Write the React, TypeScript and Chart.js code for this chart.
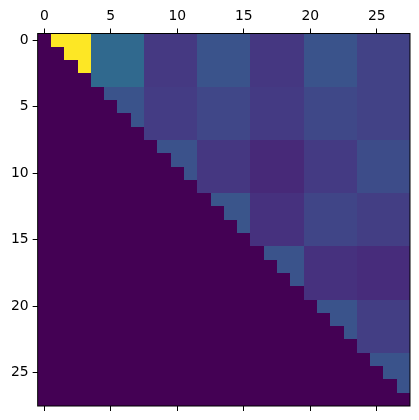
import React, { useEffect, useRef } from "react";
import { Chart, registerables } from "chart.js";
Chart.register(...registerables);

// Matrix is 28x28, made of 7x7 blocks of 4; strictly upper-triangular.
const BLOCK_SIZE = 4;
const N = 28;
const BLOCK_VALUES: number[][] = [
  [1.0, 0.34, 0.165, 0.255, 0.16, 0.255, 0.195],
  [0, 0.255, 0.175, 0.21, 0.17, 0.215, 0.195],
  [0, 0, 0.25, 0.16, 0.115, 0.17, 0.23],
  [0, 0, 0, 0.26, 0.14, 0.205, 0.18],
  [0, 0, 0, 0, 0.255, 0.14, 0.125],
  [0, 0, 0, 0, 0, 0.255, 0.18],
  [0, 0, 0, 0, 0, 0, 0.255],
];
const X_TICKS = [0, 5, 10, 15, 20, 25];
const Y_TICKS = [0, 5, 10, 15, 20, 25];

const VIRIDIS = [
  "#440154", "#471365", "#482475", "#463480", "#414487", "#3b528b", "#355f8d",
  "#2f6c8e", "#2a788e", "#25848e", "#21918c", "#1e9c89", "#22a884", "#2fb47c",
  "#44bf70", "#5ec962", "#7ad151", "#9bd93c", "#bddf26", "#dfe318", "#fde725",
];
const hex = (h: string) => [1, 3, 5].map((i) => parseInt(h.slice(i, i + 2), 16));
function viridis(t: number): string {
  const v = Math.max(0, Math.min(1, t)) * (VIRIDIS.length - 1);
  const i = Math.min(Math.floor(v), VIRIDIS.length - 2);
  const f = v - i;
  const a = hex(VIRIDIS[i]);
  const b = hex(VIRIDIS[i + 1]);
  const c = a.map((x, k) => Math.round(x + (b[k] - x) * f));
  return `rgb(${c[0]},${c[1]},${c[2]})`;
}

function cellValue(i: number, j: number): number {
  if (j <= i) return 0;
  return BLOCK_VALUES[Math.floor(i / BLOCK_SIZE)][Math.floor(j / BLOCK_SIZE)];
}

const CELLS: { x: number; y: number; v: number }[] = [];
for (let i = 0; i < N; i++) for (let j = 0; j < N; j++) CELLS.push({ x: j, y: i, v: cellValue(i, j) });
const VMIN = 0;
const VMAX = 1;

const heatPlugin = {
  id: "heat",
  beforeDatasetsDraw(chart: any) {
    const { ctx, scales } = chart;
    const xs = scales.x, ys = scales.y;
    const data = chart.data.datasets[0].data as any[];
    ctx.save();
    for (const c of data) {
      const x0 = Math.round(xs.getPixelForValue(c.x - 0.5));
      const x1 = Math.round(xs.getPixelForValue(c.x + 0.5));
      const y0 = Math.round(ys.getPixelForValue(c.y - 0.5));
      const y1 = Math.round(ys.getPixelForValue(c.y + 0.5));
      ctx.fillStyle = viridis((c.v - VMIN) / (VMAX - VMIN));
      ctx.fillRect(Math.min(x0, x1), Math.min(y0, y1), Math.abs(x1 - x0), Math.abs(y1 - y0));
    }
    ctx.restore();
  },
  afterDatasetsDraw(chart: any) {
    const { ctx, chartArea: a } = chart;
    ctx.save();
    ctx.strokeStyle = "#000";
    ctx.lineWidth = 1;
    ctx.strokeRect(a.left, a.top, a.right - a.left, a.bottom - a.top);
    ctx.restore();
  },
};

export default function App() {
  const ref = useRef<HTMLCanvasElement>(null);
  useEffect(() => {
    document.body.style.margin = "0";
    Chart.defaults.font.family = "'DejaVu Sans'";
    Chart.defaults.font.size = 13.9;
    Chart.defaults.color = "#000";
    const grid = { display: true, drawOnChartArea: false, drawTicks: true, tickLength: 5, color: "#000", tickColor: "#000", tickWidth: 1 };
    const chart = new Chart(ref.current!, {
      type: "scatter",
      data: { datasets: [{ data: CELLS as any, pointRadius: 0, showLine: false }] },
      plugins: [heatPlugin],
      options: {
        animation: false,
        responsive: false,
        devicePixelRatio: 1,
        layout: { padding: { left: 0, top: 0, right: 9, bottom: 0 } },
        plugins: { legend: { display: false }, tooltip: { enabled: false } },
        scales: {
          x: {
            type: "linear", position: "top", min: -0.5, max: 27.5,
            grid, border: { display: false },
            ticks: { padding: 4, maxRotation: 0 },
            afterBuildTicks: (s: any) => { s.ticks = X_TICKS.map((v) => ({ value: v })); },
            afterFit: (s: any) => { s.height = 33.5; },
          },
          x2: {
            type: "linear", position: "bottom", min: -0.5, max: 27.5,
            grid, border: { display: false },
            ticks: { display: false },
            afterBuildTicks: (s: any) => { s.ticks = X_TICKS.map((v) => ({ value: v })); },
            afterFit: (s: any) => { s.height = 14; },
          },
          y: {
            type: "linear", position: "left", reverse: true, min: -0.5, max: 27.5,
            grid, border: { display: false },
            ticks: { padding: 4 },
            afterBuildTicks: (s: any) => { s.ticks = Y_TICKS.map((v) => ({ value: v })); },
            afterFit: (s: any) => { s.width = 37.65; },
          },
        },
      } as any,
    });
    return () => chart.destroy();
  }, []);
  return (
    <div style={{ width: 419, height: 420 }}>
      <canvas ref={ref} width={419} height={420} />
    </div>
  );
}
